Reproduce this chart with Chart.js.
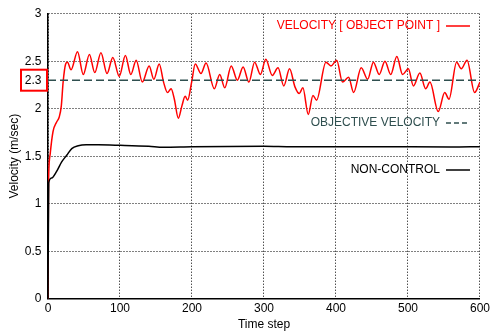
<!DOCTYPE html>
<html>
<head>
<meta charset="utf-8">
<script src="https://cdn.jsdelivr.net/npm/chart.js@4"></script>
<style>
  html, body { margin: 0; padding: 0; background: #fff; }
</style>
</head>
<body>
<canvas id="velocityChart" width="493" height="334"></canvas>
<script>
// time steps and velocities of the controlled object point
const objTime = [0, 0.5, 1, 3, 7, 12, 15.5, 18.5, 21, 24.5, 27, 32, 41, 49, 57.5, 65, 73.5, 82, 90, 99,
  107.5, 115, 122.5, 131, 140.5, 147, 154.5, 160.5, 166, 171, 175.5, 181, 186, 190.5, 194, 199.5,
  204.5, 212.5, 219.5, 231, 238.5, 245.5, 254.5, 263, 271, 279, 287, 295, 302.5, 311.5, 319.5,
  327.5, 335.5, 343, 349, 354, 361.5, 368, 373, 386, 393, 401, 409, 417.5, 424.5, 435, 444, 452,
  460, 468, 476, 484.5, 492.5, 500.5, 507.5, 516.5, 524.5, 530.5, 542, 551, 557, 567.5, 574, 582,
  592.5, 600];
const objVelocity = [0, 1.0, 1.3, 1.52, 1.76, 1.86, 1.91, 2.03, 2.28, 2.47, 2.49, 2.41, 2.60, 2.36, 2.57, 2.38, 2.59, 2.37, 2.54, 2.34,
  2.56, 2.36, 2.51, 2.28, 2.45, 2.31, 2.47, 2.28, 2.17, 2.21, 2.10, 1.90, 2.03, 2.13, 2.09, 2.28,
  2.47, 2.37, 2.48, 2.21, 2.36, 2.22, 2.45, 2.30, 2.44, 2.28, 2.49, 2.36, 2.52, 2.35, 2.43,
  2.24, 2.42, 2.23, 2.16, 2.22, 1.94, 2.14, 2.09, 2.49, 2.45, 2.51, 2.28, 2.33, 2.17, 2.43, 2.31, 2.49,
  2.36, 2.50, 2.36, 2.55, 2.36, 2.42, 2.24, 2.375, 2.21, 2.28, 1.97, 2.17, 2.10, 2.49, 2.42, 2.51,
  2.17, 2.28];

// uncontrolled run
const freeTime = [0, 1, 5, 12, 19, 26, 33, 42, 53, 70, 100, 140, 160, 200, 300, 340, 450, 560, 600];
const freeVelocity = [0, 1.22, 1.27, 1.34, 1.44, 1.51, 1.58, 1.61, 1.62, 1.62, 1.615, 1.605, 1.595, 1.60, 1.605, 1.60, 1.60, 1.597, 1.60];

const targetVelocity = 2.3;
const timeTicks = [0, 100, 200, 300, 400, 500, 600];
const velocityTicks = [0, 0.5, 1, 1.5, 2, 2.5, 3];

const legendLabels = ['VELOCITY [ OBJECT POINT ]', 'OBJECTIVE VELOCITY', 'NON-CONTROL'];

const RED = '#ff0000';
const SLATE = '#2f4f4f';
const FONT = 'Liberation Sans, Arial, sans-serif';

const toPoints = (xs, ys) => xs.map((x, i) => ({ x, y: ys[i] }));

// legend rows and the boxed 2.3 tick, drawn inside the plot frame
const annotations = {
  id: 'annotations',
  afterDatasetsDraw(chart) {
    const { ctx, chartArea, scales } = chart;
    ctx.save();
    ctx.font = '12px ' + FONT;
    ctx.textBaseline = 'middle';
    ctx.textAlign = 'right';

    const rows = [
      { y: 26, color: RED, dash: [] },
      { y: 123, color: SLATE, dash: [5, 3] },
      { y: 170, color: '#000', dash: [] },
    ];
    const textRight = chartArea.right - 40;
    rows.forEach((row, i) => {
      ctx.fillStyle = row.color;
      ctx.fillText(legendLabels[i], textRight, row.y);
      ctx.beginPath();
      ctx.setLineDash(row.dash);
      ctx.strokeStyle = row.color;
      ctx.lineWidth = 1.5;
      ctx.moveTo(chartArea.right - 34, row.y);
      ctx.lineTo(chartArea.right - 10, row.y);
      ctx.stroke();
    });

    // objective tick label with a red box around it
    const ty = scales.y.getPixelForValue(targetVelocity);
    ctx.setLineDash([]);
    ctx.fillStyle = '#000';
    ctx.fillText(String(targetVelocity), chartArea.left - 6.5, ty);
    ctx.strokeStyle = RED;
    ctx.lineWidth = 2;
    ctx.strokeRect(21, ty - 10.5, 26, 21);
    ctx.restore();
  }
};

const gridOpts = { color: '#000', lineWidth: 1, drawTicks: false };
const borderOpts = { color: '#000', width: 1.5, dash: [1, 2] };
const tickFont = { family: FONT, size: 12 };

new Chart(document.getElementById('velocityChart'), {
  type: 'scatter',
  data: {
    datasets: [
      {
        label: legendLabels[2],
        data: toPoints(freeTime, freeVelocity),
        borderColor: '#000',
        borderWidth: 1.5,
        showLine: true,
        pointRadius: 0,
        cubicInterpolationMode: 'monotone',
      },
      {
        label: legendLabels[1],
        data: toPoints([0, 600], [targetVelocity, targetVelocity]),
        borderColor: SLATE,
        borderWidth: 1.5,
        borderDash: [8, 4],
        showLine: true,
        pointRadius: 0,
      },
      {
        label: legendLabels[0],
        data: toPoints(objTime, objVelocity),
        borderColor: RED,
        borderWidth: 1.5,
        showLine: true,
        pointRadius: 0,
        cubicInterpolationMode: 'monotone',
      },
    ]
  },
  options: {
    responsive: false,
    animation: false,
    layout: { padding: { top: 10.7, right: 11, left: 0, bottom: 0 } },
    plugins: {
      legend: { display: false },
      tooltip: { enabled: false },
    },
    scales: {
      x: {
        type: 'linear',
        min: 0,
        max: 600,
        afterBuildTicks: scale => { scale.ticks = timeTicks.map(v => ({ value: v })); },
        afterFit: scale => { scale.height = 35.3; },
        ticks: { color: '#000', font: tickFont, padding: 3, callback: v => String(v) },
        grid: gridOpts,
        border: borderOpts,
        title: {
          display: true,
          text: 'Time step',
          color: '#000',
          font: tickFont,
          padding: { top: 0, bottom: 2 },
        },
      },
      y: {
        min: 0,
        max: 3,
        afterBuildTicks: scale => { scale.ticks = velocityTicks.map(v => ({ value: v })); },
        afterFit: scale => { scale.width = 48; },
        ticks: { color: '#000', font: tickFont, padding: 6.5, callback: v => String(v) },
        grid: gridOpts,
        border: borderOpts,
        title: {
          display: true,
          text: 'Velocity (m/sec)',
          color: '#000',
          font: tickFont,
          padding: { top: 7, bottom: 0 },
        },
      },
    },
  },
  plugins: [annotations],
});
</script>
</body>
</html>
